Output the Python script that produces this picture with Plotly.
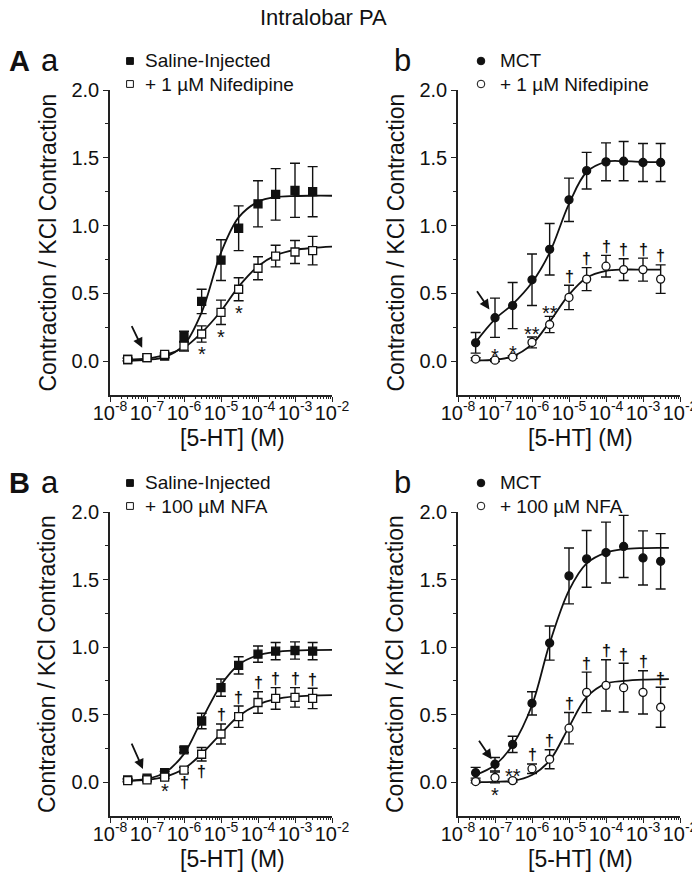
import math
import plotly.graph_objects as go

W, H = 700, 878
OFF = 8  # the page body adds an 8 px margin around the figure
FONT = "Arial, 'Liberation Sans', sans-serif"

# [5-HT] concentrations (M) for the data points
conc = [3e-8, 1e-7, 3e-7, 1e-6, 3e-6, 1e-5, 3e-5, 1e-4, 3e-4, 1e-3, 3e-3]
# concentrations at which the fitted curves were read
fit_conc = [3e-8, 1e-7, 3e-7, 1e-6, 3e-6, 1e-5, 3e-5, 1e-4, 3e-4, 1e-3, 3e-3, 1e-2]
fit_conc_ab = [3e-8, 1e-7, 3e-7, 1e-6, 3e-6, 1e-5, 3e-5, 1e-4, 3e-4, 1e-3, 3e-3]
fit_conc_bb = [3e-8, 1e-7, 3e-7, 1e-6, 3e-6, 1e-5, 3e-5, 1e-4, 3e-4, 1e-3, 3e-3, 5e-3]

# A a : saline-injected +/- 1 uM nifedipine
aa_saline = [0.012, 0.025, 0.037, 0.18, 0.44, 0.745, 0.98, 1.16, 1.23, 1.26, 1.25]
aa_saline_err = [0.01, 0.01, 0.01, 0.04, 0.09, 0.15, 0.165, 0.17, 0.19, 0.2, 0.185]
aa_nif = [0.012, 0.025, 0.05, 0.11, 0.2, 0.36, 0.53, 0.685, 0.775, 0.805, 0.815]
aa_nif_err = [0.01, 0.01, 0.01, 0.035, 0.06, 0.09, 0.085, 0.085, 0.08, 0.085, 0.105]
aa_saline_fit = [0.004, 0.01, 0.03, 0.12, 0.36, 0.80, 1.06, 1.175, 1.21, 1.218, 1.22, 1.22]
aa_nif_fit = [0.01, 0.02, 0.045, 0.10, 0.21, 0.37, 0.55, 0.70, 0.78, 0.82, 0.835, 0.845]

# A b : MCT +/- 1 uM nifedipine
ab_mct = [0.135, 0.32, 0.41, 0.60, 0.825, 1.19, 1.405, 1.47, 1.475, 1.465, 1.465]
ab_mct_err = [0.076, 0.145, 0.17, 0.19, 0.19, 0.16, 0.135, 0.14, 0.145, 0.14, 0.14]
ab_nif = [0.015, 0.007, 0.03, 0.138, 0.27, 0.47, 0.605, 0.70, 0.675, 0.675, 0.605]
ab_nif_err = [0.01, 0.01, 0.01, 0.04, 0.06, 0.09, 0.085, 0.08, 0.08, 0.085, 0.105]
ab_mct_fit = [0.14, 0.31, 0.42, 0.58, 0.80, 1.16, 1.395, 1.47, 1.475, 1.47, 1.468]
ab_nif_fit = [0.005, 0.01, 0.035, 0.125, 0.29, 0.49, 0.615, 0.665, 0.675, 0.675, 0.675]

# B a : saline-injected +/- 100 uM NFA
ba_saline = [0.017, 0.03, 0.07, 0.24, 0.453, 0.70, 0.865, 0.948, 0.97, 0.975, 0.97]
ba_saline_err = [0.01, 0.01, 0.01, 0.02, 0.057, 0.064, 0.064, 0.06, 0.064, 0.064, 0.064]
ba_nfa = [0.012, 0.017, 0.037, 0.09, 0.207, 0.357, 0.485, 0.59, 0.62, 0.628, 0.62]
ba_nfa_err = [0.01, 0.01, 0.01, 0.02, 0.05, 0.074, 0.079, 0.08, 0.08, 0.072, 0.075]
ba_saline_fit = [0.012, 0.025, 0.07, 0.21, 0.46, 0.72, 0.87, 0.94, 0.965, 0.975, 0.978, 0.98]
ba_nfa_fit = [0.01, 0.018, 0.04, 0.10, 0.21, 0.36, 0.49, 0.575, 0.615, 0.635, 0.642, 0.645]

# B b : MCT +/- 100 uM NFA
bb_mct = [0.07, 0.133, 0.28, 0.584, 1.03, 1.527, 1.653, 1.70, 1.745, 1.66, 1.635]
bb_mct_err = [0.04, 0.05, 0.06, 0.086, 0.126, 0.207, 0.21, 0.225, 0.23, 0.2, 0.205]
bb_nfa = [0.005, 0.035, 0.012, 0.10, 0.17, 0.40, 0.665, 0.717, 0.70, 0.665, 0.555]
bb_nfa_err = [0.01, 0.04, 0.01, 0.035, 0.07, 0.116, 0.15, 0.19, 0.18, 0.16, 0.148]
bb_mct_fit = [0.054, 0.128, 0.276, 0.57, 1.027, 1.42, 1.62, 1.70, 1.725, 1.733, 1.735, 1.735]
bb_nfa_fit = [0.0, 0.003, 0.01, 0.054, 0.16, 0.41, 0.63, 0.73, 0.75, 0.76, 0.762, 0.763]

# significance marks on the treated series: (point index, symbol, side)
aa_marks = [(4, "*", "below"), (5, "*", "below"), (6, "*", "below")]
ab_marks = [(1, "*", "above"), (2, "*", "above"), (3, "**", "above"), (4, "**", "above")] + \
           [(i, "†", "above") for i in range(5, 11)]
ba_marks = [(2, "*", "below"), (3, "†", "below"), (4, "†", "below")] + \
           [(i, "†", "above") for i in range(5, 11)]
bb_marks = [(1, "*", "below"), (2, "**", "above")] + [(i, "†", "above") for i in range(3, 11)]

x_tick_vals = [1e-8, 1e-7, 1e-6, 1e-5, 1e-4, 1e-3, 1e-2]
x_tick_text = ["10<sup>-8</sup>", "10<sup>-7</sup>", "10<sup>-6</sup>", "10<sup>-5</sup>",
               "10<sup>-4</sup>", "10<sup>-3</sup>", "10<sup>-2</sup>"]
y_tick_vals = [0, 0.5, 1.0, 1.5, 2.0]
y_tick_text = ["0.0", "0.5", "1.0", "1.5", "2.0"]

# pixel frame of each panel: left, right, top(y=2.0), bottom(y=-0.25)
panels = [
    dict(letter="A", sub="a", box=(110, 332, 90, 395), shape="square",
         ctrl=(aa_saline, aa_saline_err, aa_saline_fit, fit_conc, "Saline-Injected"),
         drug=(aa_nif, aa_nif_err, aa_nif_fit, fit_conc, "+ 1 µM Nifedipine"),
         marks=aa_marks, arrow=(-16, -33, 11)),
    dict(letter="", sub="b", box=(458, 680, 90, 395), shape="circle",
         ctrl=(ab_mct, ab_mct_err, ab_mct_fit, fit_conc_ab, "MCT"),
         drug=(ab_nif, ab_nif_err, ab_nif_fit, fit_conc_ab, "+ 1 µM Nifedipine"),
         marks=ab_marks, arrow=(-19, -28, 10)),
    dict(letter="B", sub="a", box=(110, 332, 512, 816), shape="square",
         ctrl=(ba_saline, ba_saline_err, ba_saline_fit, fit_conc, "Saline-Injected"),
         drug=(ba_nfa, ba_nfa_err, ba_nfa_fit, fit_conc, "+ 100 µM NFA"),
         marks=ba_marks, arrow=(-16, -36, 10)),
    dict(letter="", sub="b", box=(458, 680, 512, 816), shape="circle",
         ctrl=(bb_mct, bb_mct_err, bb_mct_fit, fit_conc_bb, "MCT"),
         drug=(bb_nfa, bb_nfa_err, bb_nfa_fit, fit_conc_bb, "+ 100 µM NFA"),
         marks=bb_marks, arrow=(-17, -25, 6)),
]

fig = go.Figure()
annotations = []
shapes = []
layout_axes = {}


def px(x):
    return (x - OFF) / W


def py(y):
    return 1 - (y - OFF) / H


minor_x = [m * 10 ** d for d in range(-8, -2) for m in range(2, 10)]

for k, p in enumerate(panels):
    n = "" if k == 0 else str(k + 1)
    xa, ya = "x" + n, "y" + n
    left, right, top, bottom = p["box"]

    layout_axes["xaxis" + n] = dict(
        type="log", range=[-8, -2], domain=[px(left), px(right)], anchor=ya,
        tickmode="array", tickvals=x_tick_vals, ticktext=x_tick_text, tickangle=0,
        ticks="outside", ticklen=5, tickwidth=1.3, tickcolor="#222", automargin=False,
        ticklabelstandoff=-6,
        showline=True, linewidth=1.5, linecolor="#222", showgrid=False, zeroline=False,
        tickfont=dict(size=20, color="#111"),
        minor=dict(tickmode="array", tickvals=minor_x, ticks="outside", ticklen=2.5,
                   tickwidth=1, tickcolor="#222", showgrid=False),
    )
    layout_axes["yaxis" + n] = dict(
        range=[-0.25, 2.0], domain=[py(bottom), py(top)], anchor=xa,
        tickmode="array", tickvals=y_tick_vals, ticktext=y_tick_text, automargin=False,
        ticks="outside", ticklen=5, tickwidth=1.3, tickcolor="#222",
        showline=True, linewidth=1.5, linecolor="#222", showgrid=False, zeroline=False,
        tickfont=dict(size=20, color="#111"),
        minor=dict(tickmode="array", tickvals=[0.25, 0.75, 1.25, 1.75], ticks="outside",
                   ticklen=3, tickwidth=1, tickcolor="#222", showgrid=False),
    )

    # fitted curves first so the open markers sit over them
    for vals, err, fit, fx, name in (p["ctrl"], p["drug"]):
        fig.add_trace(go.Scatter(
            x=fx, y=fit, mode="lines", line=dict(color="#111", width=1.8, shape="spline"),
            xaxis=xa, yaxis=ya, showlegend=False, hoverinfo="skip"))

    for (vals, err, fit, fx, name), filled in ((p["ctrl"], True), (p["drug"], False)):
        fig.add_trace(go.Scatter(
            x=conc, y=vals, mode="markers", name=name, xaxis=xa, yaxis=ya, showlegend=False,
            error_y=dict(type="data", array=err, visible=True, color="#111",
                         thickness=1.4, width=5),
            marker=dict(symbol=p["shape"], size=8,
                        color="#111" if filled else "white",
                        line=dict(color="#111", width=1.3)),
        ))

    # significance marks
    dvals, derr = p["drug"][0], p["drug"][1]
    for i, sym, side in p["marks"]:
        if side == "above":
            yv = dvals[i] + derr[i]
            shift = 9 if sym == "†" else 3
        else:
            yv = dvals[i] - derr[i]
            shift = -10 if sym == "†" else -12
        annotations.append(dict(
            x=math.log10(conc[i]), y=yv, xref=xa, yref=ya,
            text="<b>†</b>" if sym == "†" else sym, showarrow=False,
            yshift=shift, font=dict(size=16 if sym == "†" else 20, color="#111"),
            xanchor="center", yanchor="middle"))

    # arrow pointing at the second control point
    ax, ay, stand = p["arrow"]
    cvals = p["ctrl"][0]
    annotations.append(dict(
        x=math.log10(conc[1]), y=cvals[1], xref=xa, yref=ya, text="", showarrow=True,
        ax=ax, ay=ay, standoff=stand, arrowhead=2, arrowsize=1.1, arrowwidth=1.8,
        arrowcolor="#111"))

    # legend, drawn by hand
    mx = left + 20 if p["shape"] == "square" else left + 23
    tx = left + 33 if p["shape"] == "square" else left + 40
    ly1, ly2 = top - 29, top - 6
    for ly, filled, label in ((ly1, True, p["ctrl"][4]), (ly2, False, p["drug"][4])):
        half = 3.4 if p["shape"] == "square" else 3.8
        shapes.append(dict(
            type="rect" if p["shape"] == "square" else "circle",
            xref="paper", yref="paper", xsizemode="pixel", ysizemode="pixel",
            xanchor=px(mx), yanchor=py(ly), x0=-half, x1=half, y0=-half, y1=half,
            fillcolor="#111" if filled else "white", line=dict(color="#111", width=1)))
        annotations.append(dict(
            x=px(tx), y=py(ly), xref="paper", yref="paper", text=label, showarrow=False,
            xanchor="left", yanchor="middle", font=dict(size=19, color="#111")))

    # panel letters (nudged right so they stay inside the figure)
    if p["letter"]:
        annotations.append(dict(
            x=px(19), y=py(top - 29), xref="paper", yref="paper", text="<b>%s</b>" % p["letter"],
            showarrow=False, xanchor="center", yanchor="middle", font=dict(size=29, color="#111")))
    annotations.append(dict(
        x=px(left - 60 if p["sub"] == "a" else left - 56), y=py(top - 30), xref="paper", yref="paper",
        text=p["sub"], showarrow=False, xanchor="center", yanchor="middle",
        font=dict(size=31, color="#111")))

    # axis titles
    annotations.append(dict(
        x=px(left - 63), y=py((top + bottom) / 2), xref="paper", yref="paper",
        text="Contraction / KCl Contraction", textangle=-90, showarrow=False,
        xanchor="center", yanchor="middle", font=dict(size=23, color="#111")))
    annotations.append(dict(
        x=px(left + 122), y=py(bottom + 43), xref="paper", yref="paper",
        text="[5-HT] (M)", showarrow=False, xanchor="center", yanchor="middle",
        font=dict(size=23, color="#111")))

annotations.append(dict(
    x=px(323), y=py(18), xref="paper", yref="paper", text="Intralobar PA", showarrow=False,
    xanchor="center", yanchor="middle", font=dict(size=22, color="#111")))

fig.update_layout(
    template="none",
    width=W, height=H, margin=dict(l=0, r=0, t=0, b=0, autoexpand=False),
    paper_bgcolor="white", plot_bgcolor="white",
    font=dict(family=FONT, color="#111"),
    annotations=annotations, shapes=shapes, showlegend=False,
    **layout_axes,
)

fig.write_html("out.html")
